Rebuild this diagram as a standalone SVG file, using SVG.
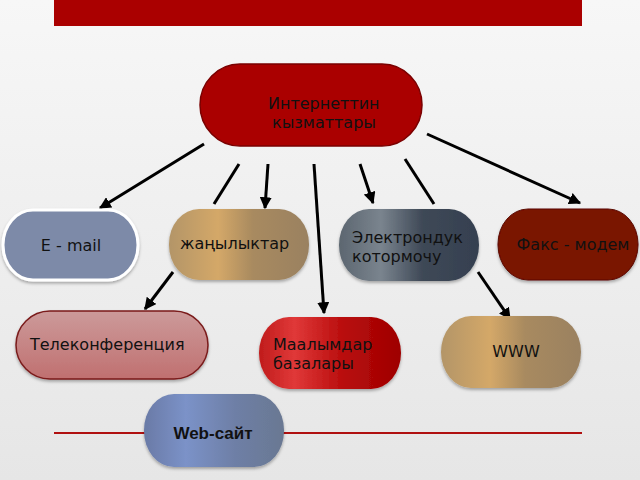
<svg xmlns="http://www.w3.org/2000/svg" width="640" height="480" viewBox="0 0 640 480">
<defs>
<linearGradient id="bg" x1="0" y1="0" x2="0" y2="1"><stop offset="0" stop-color="#f7f7f7"/><stop offset="1" stop-color="#e6e6e6"/></linearGradient>
<linearGradient id="gold" x1="0" y1="0" x2="1" y2="0"><stop offset="0" stop-color="#b39567"/><stop offset="0.35" stop-color="#d4a868"/><stop offset="0.6" stop-color="#a88a60"/><stop offset="1" stop-color="#9a8160"/></linearGradient>
<linearGradient id="slate" x1="0" y1="0" x2="1" y2="0"><stop offset="0" stop-color="#5c6670"/><stop offset="0.3" stop-color="#7a848e"/><stop offset="0.6" stop-color="#3e4856"/><stop offset="1" stop-color="#354050"/></linearGradient>
<linearGradient id="red" x1="0" y1="0" x2="1" y2="0"><stop offset="0" stop-color="#c01c1c"/><stop offset="0.25" stop-color="#e03838"/><stop offset="0.6" stop-color="#b80c0c"/><stop offset="1" stop-color="#9e0000"/></linearGradient>
<linearGradient id="blue" x1="0" y1="0" x2="1" y2="0"><stop offset="0" stop-color="#6a7aa6"/><stop offset="0.3" stop-color="#7b92c8"/><stop offset="0.65" stop-color="#6e7fa6"/><stop offset="1" stop-color="#6a7892"/></linearGradient>
<linearGradient id="pink" x1="0" y1="0" x2="0" y2="1"><stop offset="0" stop-color="#cc9a9a"/><stop offset="1" stop-color="#c07070"/></linearGradient>
<marker id="ah" viewBox="0 0 10 10" refX="9" refY="5" markerWidth="4" markerHeight="4" orient="auto"><path d="M0,0 L10,5 L0,10 z" fill="#000"/></marker>
<filter id="sh" x="-10%" y="-10%" width="120%" height="130%"><feDropShadow dx="0" dy="2" stdDeviation="1.5" flood-color="#000" flood-opacity="0.3"/></filter>
</defs>
<style>
.t{font-family:"DejaVu Sans",sans-serif;font-size:16px;fill:#111}
.c{stroke:#000;stroke-width:3;fill:none}
.a{marker-end:url(#ah)}
</style>
<rect width="640" height="480" fill="url(#bg)"/>
<rect x="54" y="0" width="528" height="26" fill="#aa0000"/>
<line x1="54" y1="433" x2="582" y2="433" stroke="#b01010" stroke-width="2"/>
<g id="connectors">
<line class="c a" x1="204" y1="144" x2="100" y2="208"/>
<line class="c" x1="239" y1="164" x2="214" y2="204"/>
<line class="c a" x1="268" y1="164" x2="265" y2="208"/>
<line class="c a" x1="314" y1="164" x2="324" y2="313"/>
<line class="c a" x1="360" y1="164" x2="373" y2="203"/>
<line class="c" x1="405" y1="159" x2="434" y2="204"/>
<line class="c a" x1="427" y1="134" x2="580" y2="203"/>
<line class="c a" x1="173" y1="272" x2="145" y2="309"/>
<line class="c a" x1="478" y1="272" x2="510" y2="319"/>
</g>
<g id="center">
<rect x="200" y="64" width="222" height="82" rx="40" ry="41" fill="#aa0000" stroke="#7a0000" stroke-width="1.5"/>
<text class="t" x="268" y="109">Интернеттин</text>
<text class="t" x="272" y="128">кызматтары</text>
</g>
<g id="email">
<rect x="3" y="210" width="135" height="70" rx="30" ry="35" fill="#7d8aa8" stroke="#fff" stroke-width="3" filter="url(#sh)"/>
<text class="t" x="71" y="251" text-anchor="middle">E - mail</text>
</g>
<g id="news">
<rect x="169" y="209" width="140" height="71" rx="30" ry="35" fill="url(#gold)" filter="url(#sh)"/>
<text class="t" x="180" y="249">жаңылыктар</text>
</g>
<g id="translator">
<rect x="339" y="209" width="140" height="72" rx="30" ry="36" fill="url(#slate)" filter="url(#sh)"/>
<text class="t" x="352" y="243">Электрондук</text>
<text class="t" x="352" y="262">котормочу</text>
</g>
<g id="fax">
<rect x="498" y="209" width="140" height="71" rx="30" ry="35" fill="#7a1206" stroke="#5a0a04" stroke-width="1" filter="url(#sh)"/>
<text class="t" x="573" y="250" text-anchor="middle">Факс - модем</text>
</g>
<g id="telecon">
<rect x="16" y="311" width="192" height="68" rx="34" ry="34" fill="url(#pink)" stroke="#7a1a1a" stroke-width="1.5" filter="url(#sh)"/>
<text class="t" x="30" y="350">Телеконференция</text>
</g>
<g id="databases">
<rect x="259" y="317" width="142" height="72" rx="30" ry="36" fill="url(#red)" filter="url(#sh)"/>
<text class="t" x="273" y="350">Маалымдар</text>
<text class="t" x="273" y="369">базалары</text>
</g>
<g id="www">
<rect x="441" y="316" width="140" height="72" rx="30" ry="36" fill="url(#gold)" filter="url(#sh)"/>
<text class="t" x="516" y="357" text-anchor="middle">WWW</text>
</g>
<g id="website">
<rect x="144" y="394" width="140" height="73" rx="30" ry="36" fill="url(#blue)" filter="url(#sh)"/>
<text x="213" y="439" text-anchor="middle" font-family="Liberation Sans,Arial,sans-serif" font-weight="bold" font-size="17" fill="#111">Web-сайт</text>
</g>
</svg>
